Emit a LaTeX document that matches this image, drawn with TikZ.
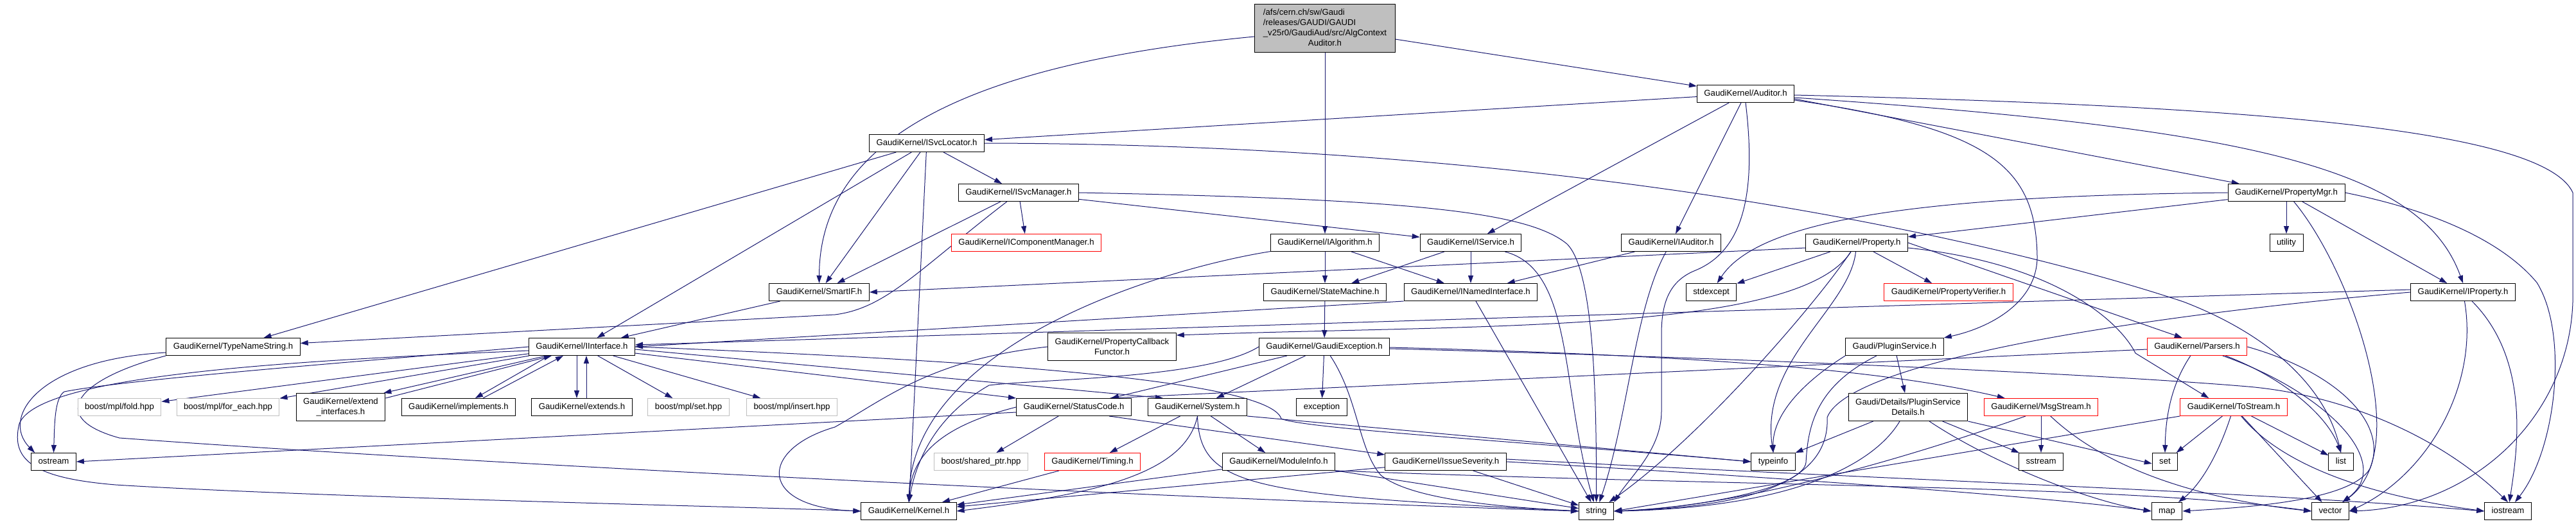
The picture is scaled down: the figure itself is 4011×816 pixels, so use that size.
\documentclass[tikz,border=0pt]{standalone}
\usepackage{fontspec}
\setmainfont{Liberation Sans}
\usetikzlibrary{arrows.meta}
\definecolor{edgeblue}{HTML}{191970}
\definecolor{boxgray}{HTML}{BFBFBF}
\pgfdeclarelayer{bglayer}
\pgfdeclarelayer{edgelayer}
\pgfsetlayers{bglayer,edgelayer,main}
\tikzset{
  basebox/.style={draw=black, line width=1pt, fill=white, inner xsep=11pt, inner ysep=0pt, font=\fontsize{13.2}{16}\selectfont},
  hdr/.style={basebox, minimum height=27pt, text height=9.8pt, text depth=2.8pt},
  hdrtwo/.style={basebox, align=center, minimum height=43pt},
  redhdr/.style={hdr, draw=red},
  grayhdr/.style={hdr, draw=boxgray},
  roothdr/.style={basebox, fill=boxgray, inner ysep=5pt, minimum height=74pt, minimum width=219pt},
  dep/.style={draw=edgeblue, line width=1pt, -{Triangle[length=12pt,width=8pt]}},
}
\begin{document}
\begin{tikzpicture}[x=1pt,y=-1pt]
\begin{pgfonlayer}{bglayer}
\fill[white] (0,0) rectangle (4011,816);
\end{pgfonlayer}
\path[use as bounding box] (0,0) rectangle (4011,816);

% ---------- nodes ----------
\node[roothdr] (root) at (2063,44) {\begin{tabular}{@{}l@{}}/afs/cern.ch/sw/Gaudi\\/releases/GAUDI/GAUDI\\\_v25r0/GaudiAud/src/AlgContext\\\multicolumn{1}{@{}c@{}}{Auditor.h}\end{tabular}};
\node[hdr] (Aud) at (2718,146) {GaudiKernel/Auditor.h};
\node[hdr] (SvcLoc) at (1443,223) {GaudiKernel/ISvcLocator.h};
\node[hdr] (SvcMgr) at (1586,300) {GaudiKernel/ISvcManager.h};
\node[hdr] (PropMgr) at (3560,300) {GaudiKernel/PropertyMgr.h};
\node[redhdr] (CompMgr) at (1598,378) {GaudiKernel/IComponentManager.h};
\node[hdr] (IAlg) at (2063,378) {GaudiKernel/IAlgorithm.h};
\node[hdr] (ISvc) at (2290,378) {GaudiKernel/IService.h};
\node[hdr] (IAud) at (2602,378) {GaudiKernel/IAuditor.h};
\node[hdr] (Prop) at (2891,378) {GaudiKernel/Property.h};
\node[hdr] (util) at (3560,378) {utility};
\node[hdr] (Smart) at (1275.5,455) {GaudiKernel/SmartIF.h};
\node[hdr] (StateM) at (2063,455) {GaudiKernel/StateMachine.h};
\node[hdr] (INamed) at (2290,455) {GaudiKernel/INamedInterface.h};
\node[hdr] (stdexc) at (2664.5,455) {stdexcept};
\node[redhdr] (PropVer) at (3034,455) {GaudiKernel/PropertyVerifier.h};
\node[hdr] (IProp) at (3835,455) {GaudiKernel/IProperty.h};
\node[hdr] (TNS) at (363,540) {GaudiKernel/TypeNameString.h};
\node[hdr] (IIf) at (906,540) {GaudiKernel/IInterface.h};
\node[hdrtwo] (PCF) at (1731.5,540) {GaudiKernel/PropertyCallback\\Functor.h};
\node[hdr] (GExc) at (2062,540) {GaudiKernel/GaudiException.h};
\node[hdr] (PlugSvc) at (2950,540) {Gaudi/PluginService.h};
\node[redhdr] (Parsers) at (3421,540) {GaudiKernel/Parsers.h};
\node[grayhdr] (fold) at (186,634) {boost/mpl/fold.hpp};
\node[grayhdr] (foreach) at (355,634) {boost/mpl/for\_each.hpp};
\node[hdrtwo] (extif) at (530.5,634) {GaudiKernel/extend\\\_interfaces.h};
\node[hdr] (impl) at (714,634) {GaudiKernel/implements.h};
\node[hdr] (extends) at (906,634) {GaudiKernel/extends.h};
\node[grayhdr] (mplset) at (1072,634) {boost/mpl/set.hpp};
\node[grayhdr] (mplins) at (1233,634) {boost/mpl/insert.hpp};
\node[hdr] (SC) at (1672,634) {GaudiKernel/StatusCode.h};
\node[hdr] (Sys) at (1864.5,634) {GaudiKernel/System.h};
\node[hdr] (exc) at (2058,634) {exception};
\node[hdrtwo] (PSD) at (2971,634) {Gaudi/Details/PluginService\\Details.h};
\node[redhdr] (Msg) at (3178,634) {GaudiKernel/MsgStream.h};
\node[redhdr] (ToS) at (3478,634) {GaudiKernel/ToStream.h};
\node[hdr] (ostream) at (83.5,719) {ostream};
\node[grayhdr] (shptr) at (1527.5,719) {boost/shared\_ptr.hpp};
\node[redhdr] (Timing) at (1701,719) {GaudiKernel/Timing.h};
\node[hdr] (ModInfo) at (1991,719) {GaudiKernel/ModuleInfo.h};
\node[hdr] (IssSev) at (2251,719) {GaudiKernel/IssueSeverity.h};
\node[hdr] (typeinfo) at (2761,719) {typeinfo};
\node[hdr] (sstream) at (3178,719) {sstream};
\node[hdr] (nset) at (3371,719) {set};
\node[hdr] (nlist) at (3645,719) {list};
\node[hdr] (Kernel) at (1415,796) {GaudiKernel/Kernel.h};
\node[hdr] (nstring) at (2485.6,796) {string};
\node[hdr] (nmap) at (3374,796) {map};
\node[hdr] (nvector) at (3628.5,796) {vector};
\node[hdr] (iostream) at (3905,796) {iostream};

% ---------- edges ----------
\begin{pgfonlayer}{edgelayer}
% root
\draw[dep] (root) -- (Aud);
\draw[dep] (root) -- (IAlg);
\draw[dep] ([yshift=-13pt]root.west) .. controls (1500,100) and (1276,220) .. (Smart.north);
% Auditor.h
\draw[dep] (Aud) -- (SvcLoc);
\draw[dep] (Aud) -- (ISvc);
\draw[dep] (Aud) -- (IAud);
\draw[dep] (Aud.south) .. controls (2735,300) and (2715,390) .. (2640,421) .. controls (2600,437) and (2587,470) .. (2587,520) -- (2587,640) .. controls (2587,700) and (2540,740) .. (nstring.north east);
\draw[dep] ([yshift=-2pt]Aud.east) .. controls (3500,165) and (3960,200) .. (4006,300) -- (4006,470) .. controls (4000,650) and (3850,790) .. (nvector.east);
\draw[dep] ([yshift=-6pt]Aud.east) .. controls (3500,200) and (3770,260) .. (IProp.north);
\draw[dep] ([yshift=-8pt]Aud.east) -- (PropMgr);
\draw[dep] ([yshift=-10pt]Aud.east) .. controls (3100,200) and (3170,260) .. (3172,400) .. controls (3172,470) and (3100,510) .. (PlugSvc.north east);
% ISvcLocator.h
\draw[dep] (SvcLoc) -- (SvcMgr);
\draw[dep] (SvcLoc) -- (TNS);
\draw[dep] (SvcLoc) -- (IIf);
\draw[dep] (SvcLoc) -- (Smart);
\draw[dep] (SvcLoc) -- (Kernel);
\draw[dep] (SvcLoc.east) .. controls (2600,225) and (3250,420) .. (3400,470) .. controls (3530,520) and (3620,600) .. (nlist.north);
% ISvcManager.h
\draw[dep] (SvcMgr) -- (CompMgr);
\draw[dep] (SvcMgr) -- (ISvc);
\draw[dep] (SvcMgr.east) .. controls (2200,310) and (2380,330) .. (2440,380) .. controls (2480,420) and (2486,600) .. (nstring.north);
\draw[dep] (SvcMgr) -- (Smart);
\draw[dep] (SvcMgr) .. controls (1430,420) and (1380,480) .. (1300,490) -- (TNS);
% IAlgorithm.h
\draw[dep] (IAlg) -- (StateM);
\draw[dep] (IAlg) -- (INamed);
\draw[dep] (IAlg) .. controls (1800,420) and (1420,540) .. (Kernel);
% IService.h
\draw[dep] (ISvc) -- (StateM);
\draw[dep] (ISvc) -- (INamed);
\draw[dep] (ISvc) .. controls (2450,420) and (2430,600) .. (nstring);
% IAuditor.h
\draw[dep] (IAud) -- (INamed);
\draw[dep] (IAud) .. controls (2545,480) and (2535,650) .. (nstring);
% PropertyMgr.h
\draw[dep] (PropMgr) -- (Prop);
\draw[dep] (PropMgr) -- (util);
\draw[dep] (PropMgr.west) .. controls (3000,305) and (2740,340) .. (stdexc);
\draw[dep] (PropMgr) .. controls (3660,420) and (3760,700) .. (nvector);
\draw[dep] (PropMgr) -- (IProp);
\draw[dep] (PropMgr.east) .. controls (3800,330) and (3900,380) .. (3950,440) .. controls (4000,520) and (3980,700) .. (iostream);
% Property.h
\draw[dep] ([yshift=-8pt]Prop.west) -- (Smart.east);
\draw[dep] (Prop) .. controls (2800,520) and (2300,505) .. ([yshift=-4pt]PCF.north east);
\draw[dep] (Prop) -- (stdexc);
\draw[dep] (Prop) .. controls (2880,480) and (2740,560) .. (typeinfo.north);
\draw[dep] (Prop) .. controls (2830,470) and (2650,680) .. (nstring);
\draw[dep] (Prop) -- (PropVer);
\draw[dep] (Prop.east) -- ([xshift=55pt]Parsers.north west);
\draw[dep] ([yshift=-8pt]Prop.east) .. controls (3200,410) and (3300,500) .. (3325,550) -- ([xshift=45pt]ToS.north west);
% SmartIF.h, StateMachine.h, INamedInterface.h
\draw[dep] (Smart) -- (IIf);
\draw[dep] (StateM) -- (GExc);
\draw[dep] (INamed.south west) -- (IIf.east);
\draw[dep] (INamed) -- (nstring);
% IProperty.h
\draw[dep] ([yshift=4pt]IProp.west) -- ([yshift=3pt]IIf.east);
\draw[dep] (IProp.west) .. controls (3350,490) and (2880,560) .. (2845,650) .. controls (2850,760) and (2700,790) .. (nstring.east);
\draw[dep] (IProp) .. controls (3860,600) and (3780,740) .. (nvector.east);
\draw[dep] (IProp) .. controls (3940,560) and (3920,700) .. (iostream);
% TypeNameString.h
\draw[dep] ([yshift=-9pt]TNS.west) .. controls (60,560) and (0,650) .. ([xshift=6pt]ostream.north west);
\draw[dep] (TNS.south west) .. controls (120,590) and (70,650) .. (186,682) .. controls (700,720) and (1800,775) .. (nstring.west);
% IInterface.h
\draw[dep] (IIf.west) .. controls (600,560) and (200,590) .. (100,610) .. controls (85,620) and (85,660) .. (ostream.north);
\draw[dep] ([yshift=-6pt]IIf.west) .. controls (500,560) and (60,580) .. (30,660) .. controls (15,720) and (60,745) .. (180,755) .. controls (500,775) and (1200,790) .. (Kernel.west);
\draw[dep] (IIf) -- (fold);
\draw[dep] (IIf) -- (foreach);
\draw[dep] ([xshift=28pt]IIf.south west) -- ([xshift=-3pt]extif.north east);
\draw[dep] ([yshift=-8pt]extif.north east) -- ([xshift=36pt]IIf.south west);
\draw[dep] ([xshift=32pt]IIf.south west) -- ([xshift=26pt]impl.north);
\draw[dep] ([xshift=38pt]impl.north) -- ([xshift=54pt]IIf.south west);
\draw[dep] ([xshift=-8pt]IIf.south) -- ([xshift=-8pt]extends.north);
\draw[dep] ([xshift=7pt]extends.north) -- ([xshift=7pt]IIf.south);
\draw[dep] (IIf) -- (mplset);
\draw[dep] (IIf) -- (mplins);
\draw[dep] ([yshift=-10pt]IIf.east) -- (SC.north west);
\draw[dep] ([yshift=-4pt]IIf.east) -- ([xshift=24pt]Sys.north west);
\draw[dep] (IIf.east) .. controls (1500,560) and (1975,590) .. (1995,652) .. controls (2030,668) and (2400,690) .. (typeinfo.west);
% PropertyCallbackFunctor.h
\draw[dep] (PCF.west) .. controls (1450,560) and (1380,620) .. (1300,665) .. controls (1180,700) and (1180,790) .. (Kernel.west);
% GaudiException.h
\draw[dep] (GExc) -- (exc);
\draw[dep] (GExc) .. controls (2115,620) and (2115,700) .. (2150,740) .. controls (2200,780) and (2350,790) .. (nstring.west);
\draw[dep] ([yshift=-3pt]GExc.east) .. controls (2800,560) and (3300,585) .. (3500,602) .. controls (3650,615) and (3800,680) .. (iostream.north);
\draw[dep] ([yshift=-1pt]GExc.east) .. controls (2700,555) and (2950,580) .. ([xshift=33pt]Msg.north west);
\draw[dep] (GExc) -- (SC);
\draw[dep] (GExc) -- (Sys);
\draw[dep] (GExc.west) .. controls (1880,590) and (1620,590) .. (1540,600) .. controls (1470,640) and (1430,700) .. (Kernel.north);
% StatusCode.h
\draw[dep] (SC) -- (shptr);
\draw[dep] (SC.west) .. controls (1480,660) and (1420,700) .. (Kernel.north);
\draw[dep] ([xshift=-35pt]SC.south east) -- ([yshift=-3pt]IssSev.north west);
\draw[dep] ([yshift=-8pt]SC.west) -- (ostream.east);
% System.h
\draw[dep] (Sys) -- (Timing);
\draw[dep] (Sys) -- (ModInfo);
\draw[dep] (Sys.south) .. controls (1845,740) and (1700,770) .. (Kernel.east);
\draw[dep] (Sys.south) .. controls (1868,760) and (1950,770) .. (nstring.west);
\draw[dep] (Sys.south east) -- (typeinfo.west);
% ModuleInfo.h, Timing.h
\draw[dep] (ModInfo) -- (Kernel);
\draw[dep] (ModInfo) -- (nstring);
\draw[dep] (ModInfo.south east) .. controls (2800,760) and (3300,755) .. (nvector.west);
\draw[dep] (Timing) -- (Kernel);
% IssueSeverity.h
\draw[dep] (IssSev) -- (Kernel);
\draw[dep] (IssSev) -- (nstring);
\draw[dep] (IssSev.east) .. controls (2800,745) and (3200,775) .. (nmap.west);
\draw[dep] ([yshift=4pt]IssSev.east) .. controls (2900,745) and (3500,765) .. (iostream.west);
% MsgStream.h
\draw[dep] (Msg) -- (sstream);
\draw[dep] ([xshift=-24pt]Msg.south) .. controls (2950,720) and (2700,790) .. (nstring.east);
\draw[dep] (Msg) .. controls (3290,740) and (3450,780) .. (nvector.west);
% PluginService.h
\draw[dep] (PlugSvc) -- (PSD);
\draw[dep] (PlugSvc.south west) .. controls (2800,600) and (2760,650) .. (typeinfo.north);
\draw[dep] (PlugSvc) .. controls (2830,600) and (2815,660) .. (2812,720) .. controls (2808,760) and (2650,790) .. (nstring.east);
% PluginServiceDetails.h
\draw[dep] (PSD) -- (typeinfo);
\draw[dep] (PSD) .. controls (2920,720) and (2800,790) .. (nstring.east);
\draw[dep] (PSD) -- (sstream);
\draw[dep] (PSD) .. controls (3100,720) and (3250,780) .. (nmap.west);
\draw[dep] (PSD.south east) -- ([yshift=-3pt]nset.west);
% Parsers.h
\draw[dep] ([xshift=68pt]Parsers.south west) .. controls (3380,600) and (3372,650) .. (nset.north);
\draw[dep] ([xshift=-34pt]Parsers.south east) .. controls (3560,590) and (3625,650) .. (nlist.north);
\draw[dep] (Parsers) .. controls (3620,610) and (3730,720) .. (nvector);
\draw[dep] (Parsers.east) .. controls (3640,580) and (3720,660) .. (3690,730) .. controls (3660,780) and (3500,790) .. (nmap.east);
\draw[dep] ([yshift=-4pt]Parsers.west) -- ([xshift=-34pt]SC.north east);
% ToStream.h
\draw[dep] (ToS) -- (nset);
\draw[dep] (ToS) .. controls (3450,720) and (3420,760) .. (nmap);
\draw[dep] (ToS) -- (nvector);
\draw[dep] (ToS) -- (nlist);
\draw[dep] (ToS) .. controls (3570,745) and (3750,780) .. (iostream.west);
\draw[dep] (ToS.south west) -- (nstring.east);
\end{pgfonlayer}
\end{tikzpicture}
\end{document}
